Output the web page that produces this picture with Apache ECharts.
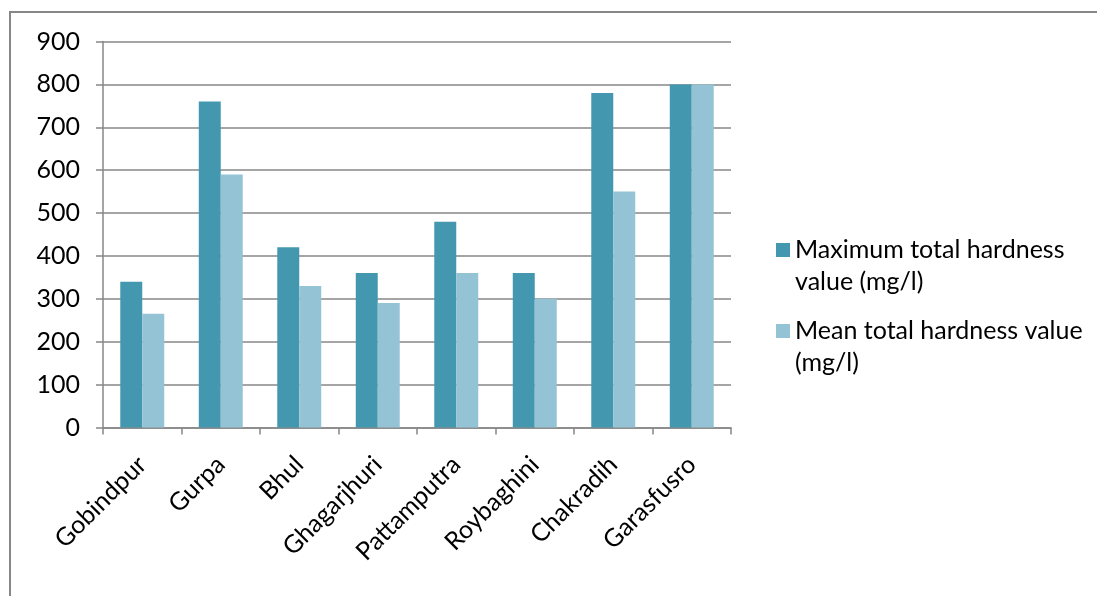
<!DOCTYPE html>
<html>
<head>
<meta charset="utf-8">
<script src="https://cdn.jsdelivr.net/npm/echarts@6/dist/echarts.min.js"></script>
<style>
  html, body { margin: 0; padding: 0; background: #fff; }
  #chart { width: 1097px; height: 596px; }
</style>
</head>
<body>
<div id="chart"></div>
<script>
// Sampling sites
const sites = ['Gobindpur', 'Gurpa', 'Bhul', 'Ghagarjhuri', 'Pattamputra', 'Roybaghini', 'Chakradih', 'Garasfusro'];
// Total hardness, mg/l
const maxHardness = [340, 760, 420, 360, 480, 360, 780, 800];
const meanHardness = [265, 590, 330, 290, 360, 300, 550, 800];
const seriesNames = ['Maximum total hardness value (mg/l)', 'Mean total hardness value (mg/l)'];
// Legend entries wrap onto two lines; a blank leading line keeps the
// first line level with the colour swatch.
const legendLines = {
  'Maximum total hardness value (mg/l)': ' \nMaximum total hardness\nvalue (mg/l)',
  'Mean total hardness value (mg/l)': ' \nMean total hardness value\n(mg/l)'
};

const FONT = 'Lato, "Open Sans", sans-serif';
const FONT_SIZE = 25;
const gray = '#878787';
const LINE_H = 32;

const legendBase = {
  orient: 'vertical',
  left: 776,
  padding: 0,
  icon: 'rect',
  itemWidth: 14,
  itemHeight: 14,
  selectedMode: false,
  formatter: name => legendLines[name],
  textStyle: {
    fontFamily: FONT,
    fontSize: FONT_SIZE,
    color: '#000',
    lineHeight: LINE_H
  }
};

const chart = echarts.init(document.getElementById('chart'), null, { renderer: 'canvas' });
chart.setOption({
  animation: false,
  backgroundColor: '#fff',
  graphic: [{
    type: 'rect',
    shape: { x: 10, y: 12, width: 1200, height: 800 },
    style: { fill: 'none', stroke: gray, lineWidth: 2 },
    silent: true
  }],
  legend: [
    Object.assign({}, legendBase, { top: 250 - (3 * LINE_H) / 2, data: [seriesNames[0]] }),
    Object.assign({}, legendBase, { top: 331 - (3 * LINE_H) / 2, data: [seriesNames[1]] })
  ],
  grid: { left: 103, right: 366, top: 41.5, bottom: 168.5, containLabel: false },
  xAxis: {
    type: 'category',
    data: sites,
    boundaryGap: true,
    axisLine: { show: true, lineStyle: { color: gray, width: 1.5 } },
    axisTick: { show: true, length: 7, lineStyle: { color: gray, width: 1.5 } },
    axisLabel: {
      rotate: 45,
      interval: 0,
      margin: 33,
      fontFamily: FONT,
      fontSize: FONT_SIZE,
      color: '#000'
    }
  },
  yAxis: {
    type: 'value',
    min: 0,
    max: 900,
    interval: 100,
    axisLine: { show: true, lineStyle: { color: gray, width: 1.5 } },
    axisTick: { show: true, length: 7, lineStyle: { color: gray, width: 1.5 } },
    splitLine: { show: true, lineStyle: { color: gray, width: 1.5 } },
    axisLabel: {
      margin: 23,
      fontFamily: FONT,
      fontSize: FONT_SIZE,
      color: '#000'
    }
  },
  series: [
    {
      name: seriesNames[0],
      type: 'bar',
      data: maxHardness,
      barGap: '0%',
      barCategoryGap: '44%',
      itemStyle: { color: '#4398B0' }
    },
    {
      name: seriesNames[1],
      type: 'bar',
      data: meanHardness,
      barGap: '0%',
      barCategoryGap: '44%',
      itemStyle: { color: '#93C3D4' }
    }
  ]
});
</script>
</body>
</html>
